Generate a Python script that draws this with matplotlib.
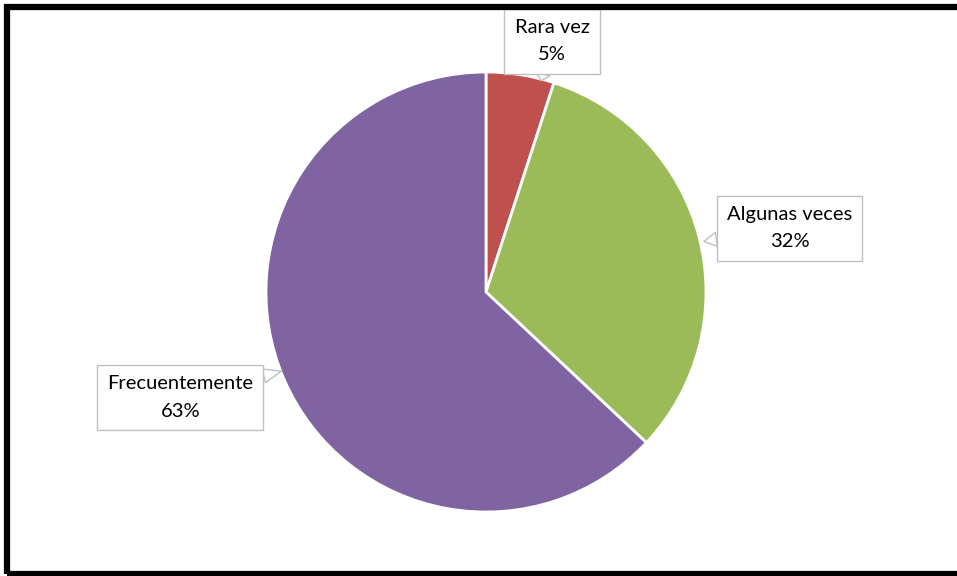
import matplotlib.pyplot as plt
from matplotlib.patches import Rectangle

labels = ['Rara vez', 'Algunas veces', 'Frecuentemente']
values = [5, 32, 63]
colors = ['#C0504D', '#9BBB59', '#8064A2']

# label box centres (data units, pie radius = 1) and pointer tips
label_pos = [(0.30, 1.14), (1.38, 0.29), (-1.39, -0.48)]
tip_pos = [(0.25, 0.96), (0.99, 0.23), (-0.93, -0.36)]

plt.rcParams['font.family'] = ['Lato', 'DejaVu Sans']

W, H = 957, 576
cx, cy, r = 486, 292, 220
fig = plt.figure(figsize=(W / 100, H / 100), dpi=100)
ax = fig.add_axes([(cx - r) / W, (H - cy - r) / H, 2 * r / W, 2 * r / H])

ax.pie(values, colors=colors, startangle=90, counterclock=False, radius=1,
       wedgeprops=dict(edgecolor='white', linewidth=2))
ax.set_xlim(-1, 1)
ax.set_ylim(-1, 1)
ax.set_aspect('equal')
ax.axis('off')

for lab, v, (tx, ty), (px, py) in zip(labels, values, label_pos, tip_pos):
    ax.annotate(f'{lab}\n{v}%', xy=(px, py), xytext=(tx, ty),
                ha='center', va='center', fontsize=14.5, color='#000000',
                linespacing=1.75, annotation_clip=False,
                bbox=dict(boxstyle='square,pad=0.5', fc='white', ec='#BFBFBF', lw=1),
                arrowprops=dict(arrowstyle='wedge,tail_width=0.7', fc='white',
                                ec='#BFBFBF', lw=1, shrinkA=0, shrinkB=0))

# outer black frame
fig.patches.append(Rectangle((7.5 / W, 2 / H), 1.0, (H - 8.5) / H,
                             transform=fig.transFigure, fill=False,
                             ec='black', lw=4.5, zorder=10))

fig.savefig('out.png', dpi=100)
